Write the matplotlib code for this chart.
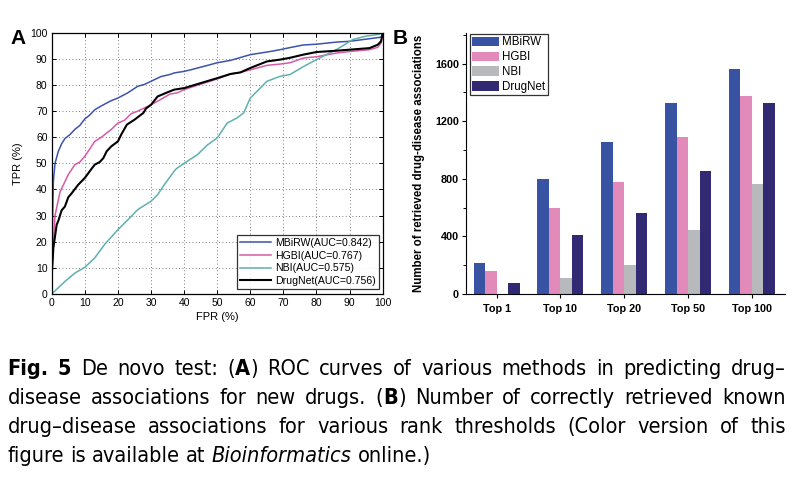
import matplotlib
matplotlib.use("Agg")
import matplotlib.pyplot as plt
import numpy as np

# ---------------- data ----------------
# Panel A: ROC curves (FPR %, TPR %)
mbirw_fpr = [0, 0.2, 0.5, 1, 2, 3, 4, 5.5, 7, 8.5, 10, 11.5, 13, 15, 18, 20, 23, 26, 28, 30,
             33, 35.7, 37, 40, 42, 45, 48, 50, 54, 57, 60, 63, 66, 69, 72, 76, 80, 86, 90,
             93, 96, 99, 99.8, 100]
mbirw_tpr = [7, 25, 43, 50, 54.6, 57.5, 59.5, 61, 63, 64.5, 67, 68.5, 70.5, 72, 74, 75, 77,
             79.5, 80.2, 81.4, 83.2, 84, 84.6, 85.2, 85.8, 86.8, 87.8, 88.5, 89.4, 90.5, 91.6,
             92.2, 92.8, 93.5, 94.3, 95.3, 95.6, 96.4, 96.7, 97.2, 97.7, 98.2, 98.5, 100]

hgbi_fpr = [0, 0.3, 1, 2.5, 4, 5, 7, 8.5, 10, 11.5, 13, 15, 16.6, 18, 20, 22, 24, 26, 28, 30,
            33, 35.7, 38, 40, 45, 50, 54, 57, 60, 65, 69, 72, 76, 80, 86, 90, 96, 98.5, 99.5, 100]
hgbi_tpr = [7, 15, 30, 39, 43, 45.7, 49.5, 50.5, 52.7, 55.5, 58.4, 60, 61.6, 63, 65.4, 66.5,
            69, 70, 71.2, 72.4, 74.5, 76.5, 77, 78.2, 80.3, 82.3, 84.2, 84.8, 85.8, 87.5, 88,
            88.5, 90.3, 90.8, 92.2, 92.8, 93.5, 94.4, 96, 100]

nbi_fpr = [0, 4, 7, 10, 13, 16, 20, 23, 26, 30, 32, 34, 37, 37.7, 40, 44, 47, 50, 53, 56, 58,
           60, 63, 65, 69, 72, 76, 80, 86, 91, 95, 99, 100]
nbi_tpr = [0, 4.8, 8, 10.2, 13.8, 19, 24.6, 28.4, 32.3, 35.5, 38, 41.8, 47, 48, 50, 53.3, 57,
           59.7, 65.4, 67.4, 69.3, 75, 78.8, 81.4, 83.3, 84, 87, 89.7, 93.5, 97.4, 98.7, 99.4, 100]

drugnet_fpr = [0, 0.5, 1.5, 2, 3, 4, 5, 6, 8, 10, 11.5, 13, 14.5, 15.6, 16.6, 18, 20, 21, 22.7,
               25, 27.7, 28.5, 30, 32, 35, 37, 40, 45, 50, 54, 57, 60, 65, 69, 72, 76, 80, 86,
               90, 96, 98.5, 99.5, 100]
drugnet_tpr = [6.8, 17.6, 26.5, 28, 32, 33.5, 37, 38.5, 41.8, 44.4, 47, 49.5, 50.5, 52, 54.6,
               56.5, 58.4, 61, 64.8, 66.7, 69.3, 71, 72.4, 75.6, 77.2, 78.2, 78.8, 80.7, 82.6,
               84.2, 84.8, 86.5, 89, 89.7, 90.4, 91.6, 92.6, 93.1, 93.5, 94.1, 95.4, 96.7, 100]

roc_labels = ["MBiRW(AUC=0.842)", "HGBI(AUC=0.767)", "NBI(AUC=0.575)", "DrugNet(AUC=0.756)"]

# Panel B: retrieved associations
categories = ["Top 1", "Top 10", "Top 20", "Top 50", "Top 100"]
methods = ["MBiRW", "HGBI", "NBI", "DrugNet"]
mbirw_counts = [215, 800, 1055, 1328, 1565]
hgbi_counts = [158, 600, 777, 1087, 1377]
nbi_counts = [0, 108, 198, 442, 767]
drugnet_counts = [77, 413, 563, 857, 1327]

# ---------------- style ----------------
W, H = 803, 486
plt.rcParams['font.family'] = ['Liberation Sans', 'DejaVu Sans']
fig = plt.figure(figsize=(W / 100, H / 100), dpi=100)


def fx(px):
    return px / W


def fy(py):
    return 1 - py / H


# ---------------- panel A ----------------
axA = fig.add_axes([fx(51.7), fy(294), (382.7 - 51.7) / W, (294 - 32.7) / H])
roc_colors = ["#3d52ad", "#d85aa6", "#5fb0b0", "#000000"]
roc_lw = [1.1, 1.1, 1.1, 1.5]
for fpr, tpr, lab, c, lw in zip([mbirw_fpr, hgbi_fpr, nbi_fpr, drugnet_fpr],
                                [mbirw_tpr, hgbi_tpr, nbi_tpr, drugnet_tpr],
                                roc_labels, roc_colors, roc_lw):
    axA.plot(fpr, tpr, color=c, lw=lw, label=lab)
axA.set_xlim(0, 100)
axA.set_ylim(0, 100)
axA.set_xticks(np.arange(0, 101, 10))
axA.set_yticks(np.arange(0, 101, 10))
axA.grid(True, linestyle=(0, (1, 3)), color="#555555", lw=0.6)
axA.tick_params(direction='in', top=True, right=True, length=3, width=0.7,
                labelsize=7.5, pad=3)
for s in axA.spines.values():
    s.set_linewidth(0.9)
axA.set_xlabel("FPR (%)", fontsize=8, labelpad=3)
axA.set_ylabel("TPR (%)", fontsize=8, labelpad=5)
legA = axA.legend(loc='lower right', bbox_to_anchor=(0.989, 0.019), borderaxespad=0,
                  fontsize=7.6, frameon=True, fancybox=False, handlelength=2.9,
                  handletextpad=0.4, labelspacing=0.25, borderpad=0.3)
legA.get_frame().set_edgecolor('black')
legA.get_frame().set_linewidth(0.9)

fig.text(fx(10), fy(44), "A", fontsize=15, fontweight='bold', va='baseline', ha='left')

# ---------------- panel B ----------------
axB = fig.add_axes([fx(466), fy(294), (785 - 466) / W, (294 - 33.3) / H])
bar_colors = ["#3953a4", "#e28bbb", "#b8b9bc", "#312a72"]
x = np.arange(len(categories))
bw = 0.18
for i, (vals, m, c) in enumerate(zip([mbirw_counts, hgbi_counts, nbi_counts, drugnet_counts],
                                     methods, bar_colors)):
    axB.bar(x + (i - 1.5) * bw, vals, width=bw, color=c, label=m, edgecolor='none')
axB.set_xlim(-0.48, 4.52)
axB.set_ylim(0, 1810)
axB.set_xticks(x)
axB.set_xticklabels(categories, fontsize=8, fontweight='bold')
axB.set_yticks([0, 400, 800, 1200, 1600])
axB.set_yticks(np.arange(200, 1801, 400), minor=True)
axB.tick_params(axis='both', which='major', direction='out', length=3, width=0.8,
                labelsize=7.8, pad=2)
axB.tick_params(axis='x', which='major', pad=4)
axB.tick_params(axis='y', which='minor', direction='out', length=2, width=0.7)
for lab in axB.get_yticklabels():
    lab.set_fontweight('bold')
axB.spines['top'].set_visible(False)
axB.spines['right'].set_visible(False)
axB.spines['left'].set_linewidth(0.8)
axB.spines['bottom'].set_linewidth(0.8)
axB.set_ylabel("Number of retrieved drug-disease associations", fontsize=8.3,
               fontweight='bold', labelpad=7)
legB = axB.legend(loc='upper left', bbox_to_anchor=(0.012, 0.997), borderaxespad=0,
                  fontsize=8.3, frameon=True, fancybox=False, handlelength=2.3,
                  handleheight=0.9, handletextpad=0.3, labelspacing=0.25, borderpad=0.2)
legB.get_frame().set_edgecolor('black')
legB.get_frame().set_linewidth(0.9)

fig.text(fx(393), fy(44), "B", fontsize=15, fontweight='bold', va='baseline', ha='left')

# ---------------- caption ----------------
cap_family = ["DejaVu Sans"]
cap_stretch = 'condensed'
cap_size = 15.6

N, B_, I_ = 'normal', 'bold', 'italic'
cap_lines = [
    [[("Fig.", B_)], [("5", B_)], [("De", N)], [("novo", N)], [("test:", N)],
     [("(", N), ("A", B_), (")", N)], [("ROC", N)], [("curves", N)], [("of", N)],
     [("various", N)], [("methods", N)], [("in", N)], [("predicting", N)], [("drug–", N)]],
    [[("disease", N)], [("associations", N)], [("for", N)], [("new", N)], [("drugs.", N)],
     [("(", N), ("B", B_), (")", N)], [("Number", N)], [("of", N)], [("correctly", N)],
     [("retrieved", N)], [("known", N)]],
    [[("drug–disease", N)], [("associations", N)], [("for", N)], [("various", N)],
     [("rank", N)], [("thresholds", N)], [("(Color", N)], [("version", N)], [("of", N)],
     [("this", N)]],
    [[("figure", N)], [("is", N)], [("available", N)], [("at", N)],
     [("Bioinformatics", I_)], [("online.)", N)]],
]
cap_baselines = [375, 404, 433, 462]
cap_left, cap_right = 7.5, 786

renderer = fig.canvas.get_renderer()


def seg_props(style):
    d = dict(family=cap_family, fontsize=cap_size, va='baseline', ha='left',
             fontstretch=cap_stretch)
    if style == B_:
        d['fontweight'] = 'bold'
    if style == I_:
        d['fontstyle'] = 'italic'
    return d


def measure(txt, style):
    t = fig.text(0, 0, txt, **seg_props(style))
    w = t.get_window_extent(renderer).width
    t.remove()
    return w


space_w = measure("a a", N) - measure("aa", N)

for li, (words, base) in enumerate(zip(cap_lines, cap_baselines)):
    widths = [[measure(s, st) for s, st in wd] for wd in words]
    totals = [sum(w) for w in widths]
    if li < len(cap_lines) - 1:
        gap = (cap_right - cap_left - sum(totals)) / (len(words) - 1)
    else:
        gap = space_w
    xpos = cap_left
    for wd, ws in zip(words, widths):
        xx = xpos
        for (s, st), w in zip(wd, ws):
            fig.text(fx(xx), fy(base), s, **seg_props(st))
            xx += w
        xpos += sum(ws) + gap

fig.savefig("out.png", dpi=100)
